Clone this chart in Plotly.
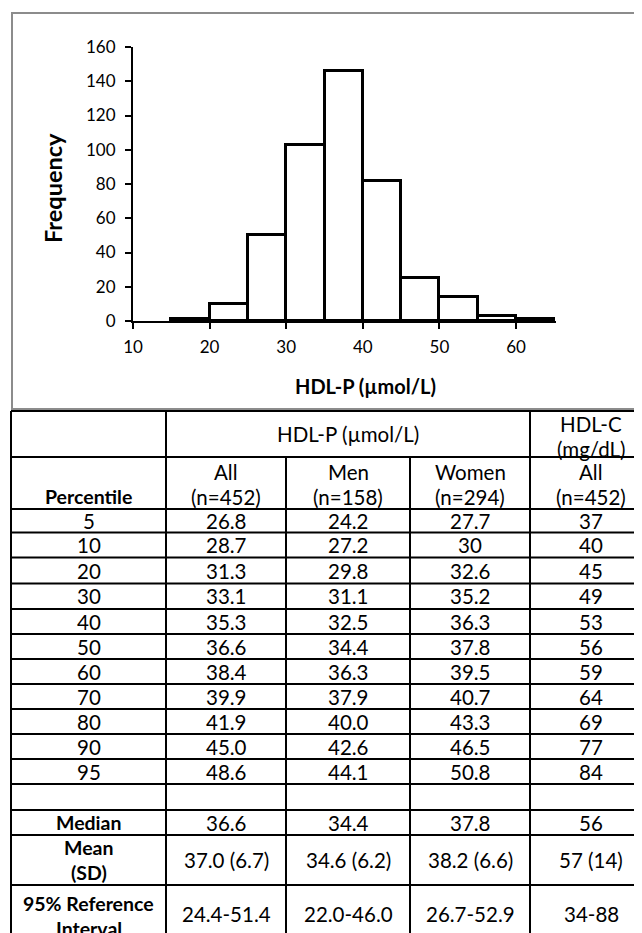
import plotly.graph_objects as go

# ---------------- histogram data ----------------
bin_left = [15, 20, 25, 30, 35, 40, 45, 50, 55, 60]
bin_width = 5
frequency = [1, 10, 50, 103, 146, 82, 25, 14, 3, 1]
x_ticks = [10, 20, 30, 40, 50, 60]
y_ticks = [0, 20, 40, 60, 80, 100, 120, 140, 160]
x_title = "HDL-P (µmol/L)"
y_title = "Frequency"

# ---------------- table data ----------------
percentiles = ["5", "10", "20", "30", "40", "50", "60", "70", "80", "90", "95"]
hdlp_all = ["26.8", "28.7", "31.3", "33.1", "35.3", "36.6", "38.4", "39.9", "41.9", "45.0", "48.6"]
hdlp_men = ["24.2", "27.2", "29.8", "31.1", "32.5", "34.4", "36.3", "37.9", "40.0", "42.6", "44.1"]
hdlp_women = ["27.7", "30", "32.6", "35.2", "36.3", "37.8", "39.5", "40.7", "43.3", "46.5", "50.8"]
hdlc_all = ["37", "40", "45", "49", "53", "56", "59", "64", "69", "77", "84"]

group_header = "HDL-P (µmol/L)"
hdlc_header = ["HDL-C", "(mg/dL)"]
first_col_header = "Percentile"
col_headers = [["All", "(n=452)"], ["Men", "(n=158)"], ["Women", "(n=294)"], ["All", "(n=452)"]]
summary_labels = [["Median"], ["Mean", "(SD)"], ["95% Reference", "Interval"]]
summary_values = [
    ["36.6", "34.4", "37.8", "56"],
    ["37.0 (6.7)", "34.6 (6.2)", "38.2 (6.6)", "57 (14)"],
    ["24.4-51.4", "22.0-46.0", "26.7-52.9", "34-88"],
]

# ---------------- layout constants (screen pixels) ----------------
W, H = 642, 933
OFF = 8                      # page body margin
FONT = "Lato"
TXT = 20.5
TXT_B = 19.5
col_edges = [11, 166, 286, 410, 530, 652]
row_edges = [411, 457, 509, 532.5, 557.5, 583.5, 609, 634, 659, 684, 709, 734,
             759, 784, 810, 835, 885, 946]
LINE_GAP = 25

x_px0, x_px_per = 133, 7.66   # value 10 at x=133
x_min, x_max = 10, 65.2
y_bottom_px, y_top_px = 321, 47

fig = go.Figure()
fig.add_trace(go.Bar(
    x=[b + bin_width / 2 for b in bin_left], y=frequency, width=bin_width,
    marker=dict(color="white", line=dict(color="black", width=3)),
    xaxis="x", yaxis="y", showlegend=False, hoverinfo="skip",
))
# invisible trace to instantiate the pixel-space overlay axes
fig.add_trace(go.Scatter(x=[OFF], y=[OFF], mode="markers", marker=dict(opacity=0),
                         xaxis="x2", yaxis="y2", showlegend=False, hoverinfo="skip"))

shapes = []
annotations = []

def hline(y, x0, x1, color="black", w=2):
    shapes.append(dict(type="line", xref="x2", yref="y2", x0=x0, x1=x1, y0=y, y1=y,
                       line=dict(color=color, width=w)))

def vline(x, y0, y1, color="black", w=2):
    shapes.append(dict(type="line", xref="x2", yref="y2", x0=x, x1=x, y0=y0, y1=y1,
                       line=dict(color=color, width=w)))

def text(x, y, s, bold=False, size=None):
    if size is None:
        size = TXT_B if bold else TXT
    annotations.append(dict(xref="x2", yref="y2", x=x, y=y, text=(f"<b>{s}</b>" if bold else s),
                            showarrow=False, xanchor="center", yanchor="middle",
                            font=dict(family=FONT, size=size, color="black")))

def cell(ci, y_center, lines, bold=False):
    xc = (col_edges[ci] + col_edges[ci + 1]) / 2
    n = len(lines)
    for k, s in enumerate(lines):
        text(xc, y_center + (k - (n - 1) / 2) * LINE_GAP, s, bold)

# chart frame (grey)
shapes.append(dict(type="rect", xref="x2", yref="y2", x0=12, x1=662, y0=13, y1=409,
                   line=dict(color="#8c8c8c", width=2), layer="below"))

# axis titles
text(53, 188, y_title, bold=True, size=23.5)
annotations[-1]["textangle"] = -90
text(365, 386, x_title, bold=True, size=20)

# table grid
for y in row_edges[:-1]:
    hline(y, col_edges[0], col_edges[-1])
for i, x in enumerate(col_edges):
    if i in (2, 3):
        vline(x, row_edges[1], row_edges[-1])
    else:
        vline(x, row_edges[0], row_edges[-1])

# header row 1
hy = (row_edges[0] + row_edges[1]) / 2
text((col_edges[1] + col_edges[4]) / 2, hy, group_header)
cell(4, hy + 2, hdlc_header)

# header row 2
h2 = (row_edges[1] + row_edges[2]) / 2 + 1
text((col_edges[0] + col_edges[1]) / 2, h2 + LINE_GAP / 2, first_col_header, bold=True)
for ci, lines in enumerate(col_headers):
    cell(ci + 1, h2, lines)

# percentile rows
for r in range(len(percentiles)):
    yc = (row_edges[2 + r] + row_edges[3 + r]) / 2
    cell(0, yc, [percentiles[r]])
    cell(1, yc, [hdlp_all[r]])
    cell(2, yc, [hdlp_men[r]])
    cell(3, yc, [hdlp_women[r]])
    cell(4, yc, [hdlc_all[r]])

# summary rows (after one blank row)
base = 2 + len(percentiles) + 1
for k, (lab, vals) in enumerate(zip(summary_labels, summary_values)):
    yc = (row_edges[base + k] + row_edges[base + k + 1]) / 2
    cell(0, yc, lab, bold=True)
    for ci, v in enumerate(vals):
        cell(ci + 1, yc - (2 if k == 2 else 0), [v])

axis_font = dict(family=FONT, size=17, color="black")
x_right_px = x_px0 + (x_max - x_min) * x_px_per
fig.update_layout(
    template="none",
    width=W, height=H, margin=dict(l=0, r=0, t=0, b=0),
    paper_bgcolor="white", plot_bgcolor="rgba(0,0,0,0)",
    bargap=0, showlegend=False,
    xaxis=dict(domain=[(x_px0 - OFF) / W, (x_right_px - OFF) / W],
               range=[x_min, x_max], tickvals=x_ticks, ticks="outside", ticklen=6,
               tickwidth=2, tickcolor="black", showline=True, linewidth=2, linecolor="black",
               showgrid=False, zeroline=False, tickfont=axis_font, ticklabelstandoff=4,
               anchor="y", fixedrange=True),
    yaxis=dict(domain=[1 - (y_bottom_px - OFF) / H, 1 - (y_top_px - OFF) / H],
               range=[0, 160], tickvals=y_ticks, ticks="outside", ticklen=6,
               tickwidth=2, tickcolor="black", showline=True, linewidth=2, linecolor="black",
               showgrid=False, zeroline=False, tickfont=axis_font, ticklabelstandoff=6,
               anchor="x", fixedrange=True),
    xaxis2=dict(domain=[0, 1], range=[OFF, W + OFF], visible=False, anchor="y2", fixedrange=True),
    yaxis2=dict(domain=[0, 1], range=[H + OFF, OFF], visible=False, anchor="x2", fixedrange=True),
    shapes=shapes, annotations=annotations,
)

fig.write_html("out.html")
